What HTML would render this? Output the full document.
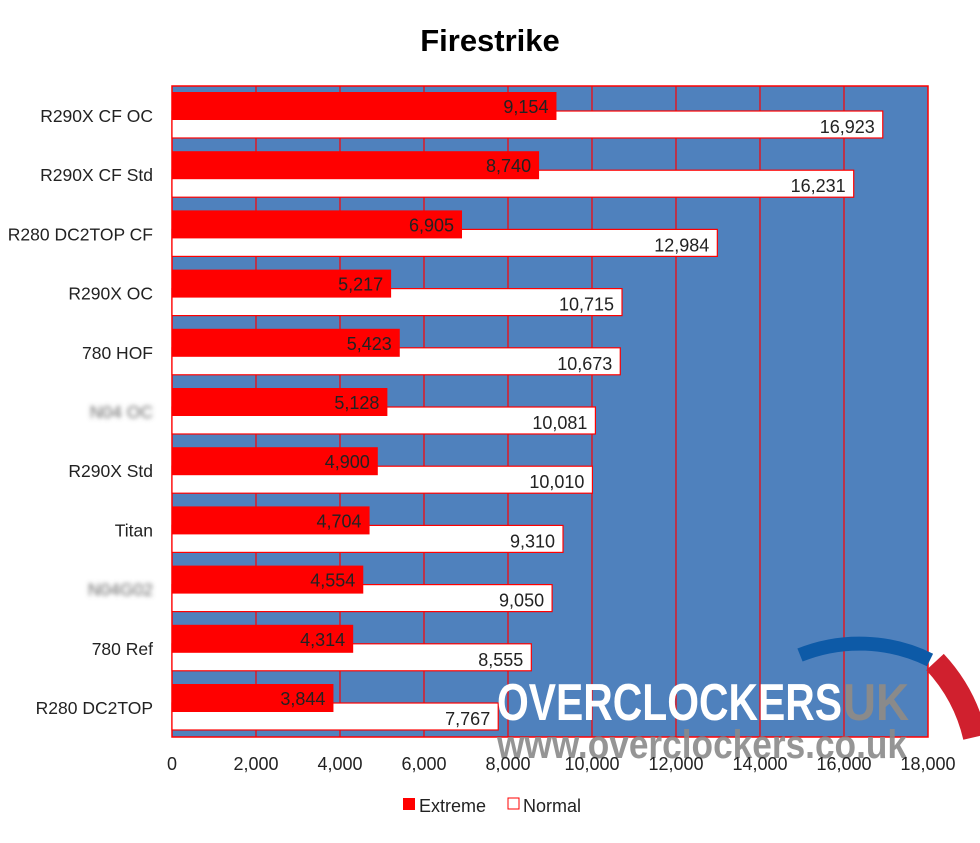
<!DOCTYPE html>
<html><head><meta charset="utf-8"><style>
body{margin:0;background:#fff;width:980px;height:838px;overflow:hidden}
svg text{font-family:"Liberation Sans",sans-serif}
</style></head><body>
<svg id="s" width="980" height="838" xmlns="http://www.w3.org/2000/svg">
<defs><filter id="bl"><feGaussianBlur stdDeviation="2.5"/></filter></defs>
<text x="490" y="51" font-size="31" font-weight="bold" text-anchor="middle">Firestrike</text>
<rect x="172" y="86" width="756" height="651" fill="#4f81bd" stroke="#ff0000" stroke-width="1.5"/>
<g id="g"></g>
</svg>
<script>
var s=document.getElementById('g'),h='';
var L=172,K=756/18000;
for(var k=1;k<9;k++){var x=L+k*2000*K;h+='<line x1="'+x+'" y1="86" x2="'+x+'" y2="737" stroke="#ff0000" stroke-width="1.2"/>';}
var n=['R290X CF OC','R290X CF Std','R280 DC2TOP CF','R290X OC','780 HOF','','R290X Std','Titan','','780 Ref','R280 DC2TOP'];
var r=[9154,8740,6905,5217,5423,5128,4900,4704,4554,4314,3844];
var w=[16923,16231,12984,10715,10673,10081,10010,9310,9050,8555,7767];
function f(v){return v.toLocaleString('en-US');}
for(var i=0;i<11;i++){var y=86+59.2*i;
var ww=w[i]*K,rw=r[i]*K;
h+='<rect x="'+L+'" y="'+(y+25)+'" width="'+ww+'" height="27" fill="#fff" stroke="#ff0000" stroke-width="1.2"/>';
h+='<rect x="'+L+'" y="'+(y+6)+'" width="'+rw+'" height="28" fill="#ff0000"/>';
h+='<text x="'+(L+rw-8)+'" y="'+(y+27)+'" font-size="18" text-anchor="end" fill="#222">'+f(r[i])+'</text>';
h+='<text x="'+(L+ww-8)+'" y="'+(y+47)+'" font-size="18" text-anchor="end" fill="#222">'+f(w[i])+'</text>';
if(n[i])h+='<text x="153" y="'+(y+36)+'" font-size="17.5" text-anchor="end" fill="#222">'+n[i]+'</text>';
else h+='<text x="153" y="'+(y+36)+'" font-size="17.5" text-anchor="end" fill="#666" filter="url(#bl)">'+(i==5?'N04 OC':'N04G02')+'</text>';
}
h+='<path d="M 930 660 A 160 160 0 0 0 800 655" fill="none" stroke="#0d5aa7" stroke-width="14"/>';
h+='<path d="M 935 662 A 165 165 0 0 1 975 737" fill="none" stroke="#d0202e" stroke-width="24"/>';
h+='<text x="497" y="720" font-size="52" font-weight="bold" fill="#fff" textLength="345" lengthAdjust="spacingAndGlyphs">OVERCLOCKERS</text>';
h+='<text x="843" y="720" font-size="52" font-weight="bold" fill="#8a8a8a" textLength="66" lengthAdjust="spacingAndGlyphs">UK</text>';
h+='<text x="497" y="758" font-size="40" font-weight="bold" fill="#8a8a8a" fill-opacity="0.9" textLength="410" lengthAdjust="spacingAndGlyphs">www.overclockers.co.uk</text>';
for(var k=0;k<10;k++){h+='<text x="'+(L+k*2000*K)+'" y="770" font-size="18" text-anchor="middle" fill="#222">'+f(k*2000)+'</text>';}
h+='<rect x="403" y="798" width="12" height="12" fill="#ff0000"/><text x="419" y="812" font-size="18" fill="#222">Extreme</text>';
h+='<rect x="508" y="798" width="11" height="11" fill="#fff" stroke="#ff0000"/><text x="523" y="812" font-size="18" fill="#222">Normal</text>';
s.innerHTML=h;
</script>
</body></html>
